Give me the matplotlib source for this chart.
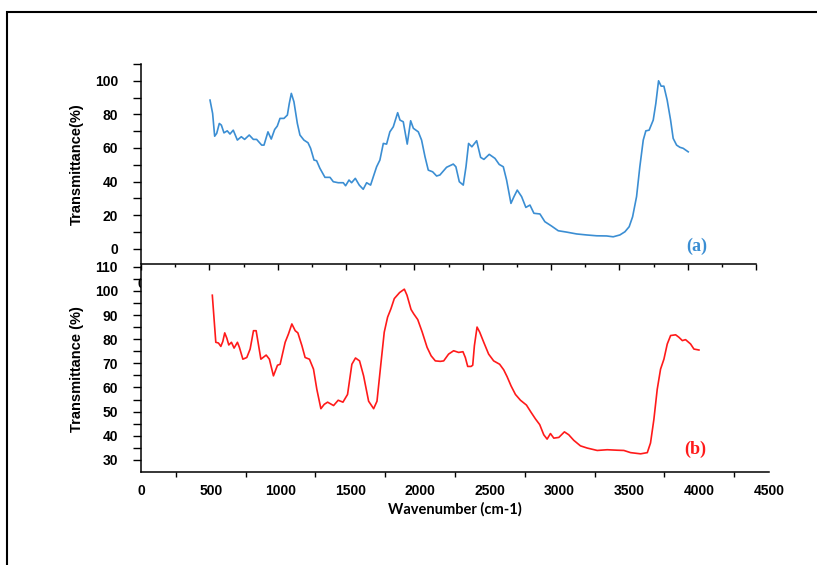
import matplotlib
matplotlib.use("Agg")
import matplotlib.pyplot as plt
from matplotlib.patches import Rectangle
from matplotlib.transforms import Bbox, TransformedBbox

plt.rcParams['font.family'] = ['Liberation Sans', 'DejaVu Sans']
plt.rcParams['font.weight'] = 'bold'
plt.rcParams['font.size'] = 10

# (a) spectrum
a_wavenumber = [505, 524, 539, 554, 573, 588, 607, 631, 651, 675, 705, 734, 758, 792,
                822, 846, 883, 900, 929, 953, 978, 997, 1017, 1046, 1071, 1085, 1100,
                1119, 1144, 1163, 1192, 1222, 1241, 1266, 1285, 1309, 1346, 1383, 1407,
                1443, 1480, 1497, 1522, 1541, 1568, 1597, 1626, 1651, 1680, 1700, 1724,
                1748, 1773, 1797, 1821, 1846, 1878, 1895, 1919, 1948, 1973, 1993, 2029,
                2053, 2078, 2102, 2134, 2163, 2187, 2236, 2285, 2304, 2329, 2358, 2378,
                2397, 2421, 2456, 2485, 2509, 2548, 2590, 2621, 2651, 2675, 2707, 2729,
                2753, 2785, 2816, 2846, 2875, 2919, 2955, 3004, 3053, 3114, 3187, 3260,
                3334, 3407, 3455, 3504, 3541, 3572, 3597, 3626, 3650, 3675, 3694, 3718,
                3748, 3767, 3787, 3806, 3826, 3850, 3875, 3894, 3919, 3943, 3967, 4004]
a_transmittance = [88.5, 80.6, 67, 68.7, 74.6, 73.6, 69, 70.2, 68.3, 70.6, 64.7, 66.7,
                   65.1, 67.7, 65.1, 65.1, 61.7, 61.7, 69.6, 65.3, 71, 73, 77.6, 77.6,
                   79.6, 86.5, 92.5, 87.5, 74.6, 67.7, 64.7, 63.1, 59.8, 52.8, 52.4,
                   47.9, 42.5, 42.5, 39.9, 39.3, 39.3, 37.5, 40.9, 39.3, 41.9, 37.9,
                   35.4, 39.3, 37.9, 42.9, 48.8, 52.8, 62.7, 62.3, 69.6, 72.6, 81, 76.6,
                   75.6, 62.3, 76.2, 71.7, 69.6, 64.7, 54.8, 46.8, 45.8, 43.3, 43.9,
                   48.5, 50.4, 48.8, 39.9, 37.9, 48.8, 62.7, 60.7, 64.3, 54.4, 53.2,
                   56.2, 53.8, 50.2, 48.8, 40.9, 27, 31, 34.9, 31, 24.6, 26, 21.1, 20.7,
                   16.1, 13.5, 10.7, 9.9, 8.8, 8.2, 7.7, 7.6, 7.1, 8.2, 10.1, 13.1, 19,
                   31, 48.8, 64.7, 70.2, 70.6, 76.6, 86.5, 100, 96.8, 96.8, 88.5, 76.6,
                   65.7, 61.7, 60.4, 59.8, 57.7]

# (b) spectrum
b_wavenumber = [511, 536, 555, 572, 586, 600, 615, 629, 648, 667, 691, 705, 730, 758,
                782, 806, 825, 859, 897, 920, 949, 978, 997, 1033, 1057, 1081, 1105,
                1124, 1153, 1176, 1207, 1236, 1260, 1289, 1313, 1337, 1380, 1413, 1447,
                1480, 1511, 1537, 1566, 1595, 1631, 1667, 1691, 1720, 1743, 1767, 1791,
                1815, 1853, 1887, 1906, 1935, 1954, 1983, 2014, 2050, 2079, 2109, 2145,
                2169, 2204, 2240, 2276, 2307, 2324, 2341, 2365, 2377, 2389, 2408, 2427,
                2456, 2491, 2527, 2570, 2599, 2623, 2652, 2683, 2719, 2762, 2795, 2826,
                2857, 2886, 2910, 2934, 2958, 2994, 3034, 3065, 3101, 3149, 3197, 3269,
                3341, 3412, 3460, 3508, 3580, 3628, 3651, 3675, 3699, 3723, 3747, 3771,
                3795, 3831, 3854, 3879, 3902, 3938, 3962, 3998]
b_transmittance = [98.2, 78.7, 78.4, 77, 79, 82.6, 80.4, 77.6, 78.7, 76.3, 78.7, 76.6,
                   71.7, 72.4, 75.9, 83.5, 83.5, 71.7, 73.4, 71.7, 64.8, 69.2, 69.6,
                   78.7, 82.2, 86.3, 83.5, 82.6, 77.3, 72.4, 71.7, 67.6, 59.2, 51.2, 53,
                   53.9, 52.5, 54.7, 53.9, 57.1, 69.6, 72.2, 71, 64.8, 54.3, 51.2, 54.3,
                   70.4, 82.9, 89.1, 92.6, 96.8, 99.3, 100.7, 98.2, 92.3, 90.5, 88.1,
                   83.1, 76.6, 73.1, 71, 70.8, 71, 73.8, 75.2, 74.5, 74.8, 72.4, 68.7,
                   68.7, 69.2, 77.3, 85, 82.9, 78.7, 73.8, 71, 69.6, 67.3, 64.5, 60.6,
                   57.1, 54.7, 52.7, 49.7, 47, 44.6, 40.4, 38.6, 40.9, 39, 39.3, 41.6,
                   40.4, 38.1, 35.8, 34.9, 33.9, 34.2, 34, 33.9, 33, 32.5, 33, 37, 46.7,
                   59.2, 67.6, 71.7, 78, 81.5, 81.8, 80.8, 79.4, 79.8, 78, 75.9, 75.5]

x_ticks = list(range(0, 5000, 500))
x_minor = list(range(250, 4500, 500))

W, H = 817, 565
fig = plt.figure(figsize=(W / 100, H / 100), dpi=100)

def fx(px):
    return px / W

def fy(py):
    return 1 - py / H

# bottom panel (b)
axb = fig.add_axes([fx(141), fy(471.7), fx(769) - fx(141), fy(266) - fy(471.7)])
axb.set_zorder(1)
axb.plot(b_wavenumber, b_transmittance, color='#ff1a1a', lw=1.2)
axb.set_xlim(0, 4500)
axb.set_ylim(25.1, 110.3)
axb.set_xticks(x_ticks)
axb.set_xticks(x_minor, minor=True)
axb.set_yticks(range(30, 111, 10))
axb.set_yticks(range(35, 110, 10), minor=True)
axb.tick_params(axis='x', which='major', length=0, pad=9, labelsize=10)
axb.tick_params(axis='x', which='minor', length=3.5, width=1, direction='out')
axb.tick_params(axis='y', which='both', length=6, width=1, direction='out', pad=10.5,
                labelsize=10)
for s in ['top', 'right']:
    axb.spines[s].set_visible(False)
for s in ['left', 'bottom']:
    axb.spines[s].set_linewidth(1.1)
axb.set_ylabel('Transmittance (%)', fontsize=10.5, fontweight='bold', labelpad=8)
axb.text(3974, 34.2, '(b)', color='#ff1a1a', fontsize=13, fontweight='bold',
         family=['Liberation Serif'], ha='center', va='center')

# top panel (a)
axa = fig.add_axes([fx(141), fy(264), fx(756) - fx(141), fy(64) - fy(264)])
axa.set_zorder(2)
axa.patch.set_visible(False)
axa.plot(a_wavenumber, a_transmittance, color='#3b8ed3', lw=1.2)
axa.set_xlim(0, 4500)
axa.set_ylim(-9.1, 110)
axa.set_xticks(x_ticks)
axa.set_xticks(x_minor, minor=True)
axa.set_yticks(range(0, 101, 20))
axa.set_yticks(range(10, 111, 20), minor=True)
axa.tick_params(axis='x', which='major', length=4.5, width=1, direction='out', pad=5,
                labelsize=10)
axa.tick_params(axis='x', which='minor', length=2.5, width=1, direction='out')
axa.tick_params(axis='y', which='both', length=6, width=1, direction='out', pad=10.5,
                labelsize=10)
for s in ['top', 'right']:
    axa.spines[s].set_visible(False)
for s in ['left', 'bottom']:
    axa.spines[s].set_linewidth(1.1)
axa.set_ylabel('Transmittance(%)', fontsize=10.5, fontweight='bold', labelpad=8)
axa.text(4067, 1.3, '(a)', color='#3b8ed3', fontsize=13, fontweight='bold',
         family=['Liberation Serif'], ha='center', va='center')

# the top panel's x labels sit behind the lower panel; only the edge of "0" shows
clip = TransformedBbox(Bbox([[0, 0], [fx(141), 1]]), fig.transFigure)
for t in axa.xaxis.get_major_ticks():
    t.label1.set_clip_box(clip)
    t.label1.set_clip_on(True)

axb.set_xlabel('')
fig.text(fx(455), fy(509), 'Wavenumber (cm-1)', ha='center', va='center',
         fontsize=10.5, fontweight='bold', family=['Lato', 'Liberation Sans'])

# outer frame
fig.add_artist(Rectangle((fx(7), -0.2), 1.2, fy(12) + 0.2, transform=fig.transFigure,
                         fill=False, edgecolor='black', lw=1.5, clip_on=False))

fig.savefig('out.png', dpi=100)
